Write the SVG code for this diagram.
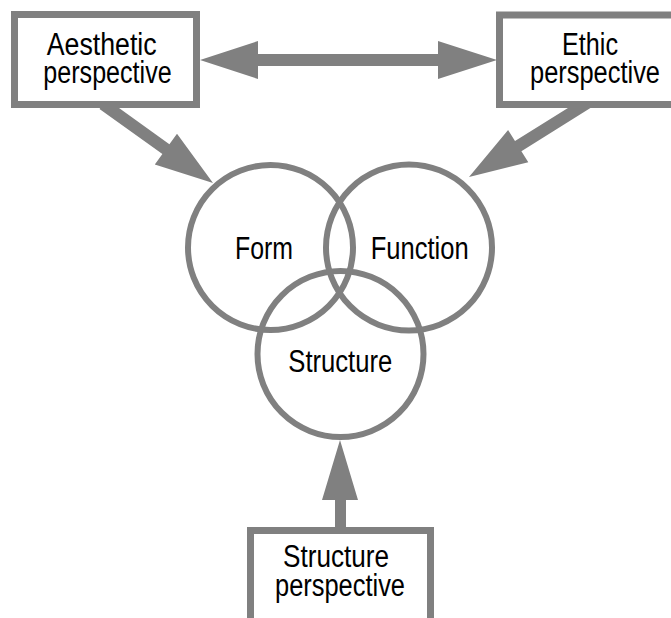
<svg xmlns="http://www.w3.org/2000/svg" width="671" height="618" viewBox="0 0 671 618">
<style>
.box{fill:#fff;stroke:#808080;stroke-width:7}
.circ{fill:none;stroke:#808080;stroke-width:6}
.arr{fill:#808080;stroke:none}
text{font-family:"Liberation Sans",Arial,sans-serif;font-size:31px;fill:#000}
</style>
<rect width="671" height="618" fill="#fff"/>
<g id="connectors">
<polygon class="arr" points="106.5,99.1 169.4,144.3 177,133.8 213,183 154.8,164.6 162.4,154.1 99.5,108.9"/>
<polygon class="arr" points="588.8,94.9 515,141.1 508.1,130.1 469,177 528.3,162.3 521.4,151.3 595.2,105.1"/>
<polygon class="arr" points="200,60 258,41 258,54 438,54 438,41 497,60 438,79 438,66 258,66 258,79"/>
<polygon class="arr" points="340,440 358,500 346,500 346,532 335,532 335,500 322,500"/>
</g>
<g id="aesthetic">
<rect class="box" x="14.5" y="14.5" width="182" height="90"/>
<text x="46.7" y="54.5" textLength="110" lengthAdjust="spacingAndGlyphs">Aesthetic</text>
<text x="43.3" y="82.5" textLength="128.4" lengthAdjust="spacingAndGlyphs">perspective</text>
</g>
<g id="ethic">
<rect class="box" x="499.5" y="15" width="200" height="89.5"/>
<text x="562" y="54.5" textLength="56" lengthAdjust="spacingAndGlyphs">Ethic</text>
<text x="530" y="82.5" textLength="130" lengthAdjust="spacingAndGlyphs">perspective</text>
</g>
<g id="structure-perspective">
<rect class="box" x="250.5" y="530.5" width="180" height="100"/>
<text x="283" y="566.5" textLength="106" lengthAdjust="spacingAndGlyphs">Structure</text>
<text x="275" y="596" textLength="130" lengthAdjust="spacingAndGlyphs">perspective</text>
</g>
<g id="form">
<circle class="circ" cx="270.5" cy="247.5" r="82.5"/>
<text x="235" y="259" textLength="58" lengthAdjust="spacingAndGlyphs">Form</text>
</g>
<g id="function">
<circle class="circ" cx="409" cy="247.5" r="83"/>
<text x="370.7" y="259" textLength="98" lengthAdjust="spacingAndGlyphs">Function</text>
</g>
<g id="structure">
<circle class="circ" cx="340.5" cy="354" r="83"/>
<text x="288.3" y="372" textLength="104" lengthAdjust="spacingAndGlyphs">Structure</text>
</g>
</svg>
